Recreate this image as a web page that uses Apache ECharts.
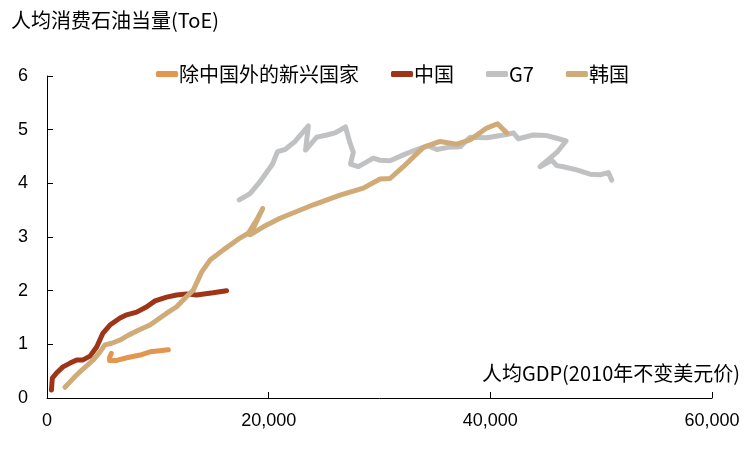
<!DOCTYPE html>
<html>
<head>
<meta charset="utf-8">
<script src="https://cdn.jsdelivr.net/npm/echarts@6/dist/echarts.min.js"></script>
<style>html,body{margin:0;padding:0;background:#fff}#c{width:755px;height:449px}</style>
</head>
<body>
<div id="c"></div>
<script>
var seriesNames = ['除中国外的新兴国家', '中国', 'G7', '韩国'];
var yTickLabels = ['0', '1', '2', '3', '4', '5', '6'];
var xTickLabels = ['0', '20,000', '40,000', '60,000'];

var emergingX = [5800, 5650, 5650, 6300, 7200, 8400, 9300, 10200, 10950];
var emergingY = [0.83, 0.76, 0.70, 0.70, 0.75, 0.80, 0.86, 0.88, 0.90];

var chinaX = [400, 480, 880, 1440, 2080, 2680, 3250, 3880, 4480, 5050, 5680, 6590, 7190, 8090, 9000, 9750, 10800, 11700, 12600, 13500, 14980, 16200];
var chinaY = [0.15, 0.37, 0.47, 0.58, 0.65, 0.71, 0.71, 0.78, 0.95, 1.21, 1.36, 1.49, 1.55, 1.60, 1.70, 1.81, 1.88, 1.92, 1.94, 1.92, 1.96, 2.00];

var g7X = [17350, 18320, 19220, 20350, 20800, 21480, 22380, 23580, 23330, 24340, 25240, 25990, 26930, 27340, 27640, 27380, 28090, 28850, 29440, 30050, 30950, 32150, 33360, 34380, 35160, 36180, 37270, 38170, 39670, 41480, 42080, 42530, 43880, 45090, 45990, 46830, 46020, 44480, 45540, 45990, 46590, 47800, 49000, 49900, 50650, 50950];
var g7Y = [3.69, 3.81, 4.03, 4.36, 4.59, 4.63, 4.78, 5.07, 4.62, 4.86, 4.90, 4.94, 5.05, 4.75, 4.58, 4.36, 4.31, 4.40, 4.47, 4.43, 4.42, 4.53, 4.63, 4.70, 4.63, 4.67, 4.68, 4.86, 4.85, 4.91, 4.94, 4.83, 4.90, 4.89, 4.84, 4.79, 4.58, 4.31, 4.43, 4.33, 4.31, 4.25, 4.17, 4.16, 4.20, 4.06];

var koreaX = [1620, 2080, 2530, 2980, 3580, 4180, 4780, 5230, 5840, 6590, 7340, 8090, 9290, 9900, 10800, 11700, 12600, 13200, 13960, 14710, 15910, 17410, 18160, 18920, 19460, 18320, 19520, 21020, 24030, 26440, 28540, 30050, 30950, 32150, 33950, 35460, 36970, 38170, 39670, 40650, 41480];
var koreaY = [0.20, 0.30, 0.40, 0.49, 0.60, 0.71, 0.86, 0.99, 1.02, 1.08, 1.17, 1.25, 1.36, 1.45, 1.58, 1.70, 1.89, 2.01, 2.35, 2.57, 2.76, 2.98, 3.07, 3.32, 3.53, 3.04, 3.19, 3.35, 3.60, 3.78, 3.91, 4.08, 4.09, 4.31, 4.67, 4.78, 4.73, 4.81, 5.03, 5.11, 4.94];

var colors = ['#E2964F', '#9E3518', '#C0C1C3', '#D0AB77'];

function zip(xs, ys) { return xs.map(function (x, i) { return [x, ys[i]]; }); }
var datasets = [zip(emergingX, emergingY), zip(chinaX, chinaY), zip(g7X, g7Y), zip(koreaX, koreaY)];

var font = '"Noto Sans CJK SC", "Noto Sans", sans-serif';
var chart = echarts.init(document.getElementById('c'), null, { renderer: 'canvas' });
chart.setOption({
  animation: false,
  backgroundColor: '#ffffff',
  color: colors,
  title: [
    { text: '人均消费石油当量(ToE)', left: 6, top: 5, textStyle: { fontFamily: font, fontSize: 20, fontWeight: 'normal', color: '#000' } },
    { text: '人均GDP(2010年不变美元价)', right: 10, top: 358, textStyle: { fontFamily: font, fontSize: 20, fontWeight: 'normal', color: '#000' } }
  ],
  legend: {
    data: seriesNames,
    top: 59,
    left: 151,
    itemGap: 32,
    itemWidth: 22,
    itemHeight: 6,
    icon: 'roundRect',
    textStyle: { fontFamily: font, fontSize: 20, color: '#000', padding: [0, 0, 0, -4] }
  },
  grid: { left: 47, right: 43, top: 76, bottom: 51, containLabel: false },
  xAxis: {
    type: 'value', min: 0, max: 60000, interval: 20000,
    axisLine: { show: true, lineStyle: { color: '#000', width: 1 } },
    axisTick: { show: true, inside: true, length: 6, lineStyle: { color: '#000' } },
    splitLine: { show: false },
    axisLabel: {
      margin: 14, fontSize: 18, color: '#000', fontFamily: 'Liberation Sans, Arial, sans-serif',
      formatter: function (v) { return xTickLabels[Math.round(v / 20000)]; }
    }
  },
  yAxis: {
    type: 'value', min: 0, max: 6, interval: 1,
    axisLine: { show: true, lineStyle: { color: '#000', width: 1 } },
    axisTick: { show: true, inside: true, length: 6, lineStyle: { color: '#000' } },
    splitLine: { show: false },
    axisLabel: {
      margin: 19, fontSize: 18, color: '#000', fontFamily: 'Liberation Sans, Arial, sans-serif',
      formatter: function (v) { return yTickLabels[Math.round(v)]; }
    }
  },
  series: seriesNames.map(function (n, i) {
    return {
      name: n, type: 'line', data: datasets[i], symbol: 'none', smooth: false,
      lineStyle: { width: 5, color: colors[i], cap: 'round', join: 'round' },
      itemStyle: { color: colors[i] }
    };
  })
});
</script>
</body>
</html>
